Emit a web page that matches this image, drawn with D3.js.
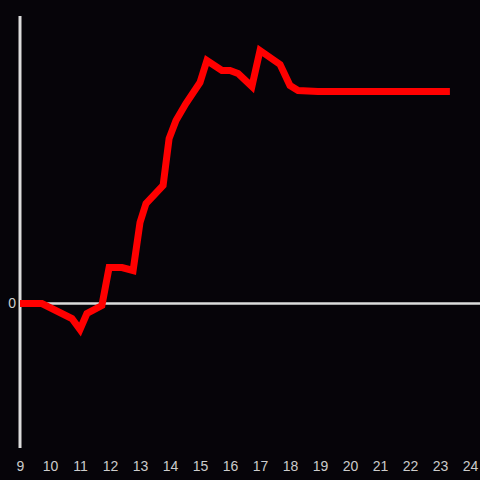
<!DOCTYPE html>
<html>
<head>
<meta charset="utf-8">
<script src="https://cdn.jsdelivr.net/npm/d3@7"></script>
<style>
  html, body { margin: 0; padding: 0; background: #060409; }
  svg { display: block; }
</style>
</head>
<body>
<div id="chart"></div>
<script>
// hours of the day and the value read at each point
const hours = [9, 9.73, 10.73, 11.0, 11.23, 11.73, 11.97, 12.4, 12.77, 13.0, 13.2, 13.77, 13.97, 14.2, 14.53,
  15.0, 15.23, 15.73, 16.0, 16.27, 16.73, 17.0, 17.67, 18.0, 18.27, 18.93, 23.33];
const values = [0, 0, -1.5, -2.6, -1.0, -0.2, 3.6, 3.6, 3.3, 8.1, 10.0, 11.8, 16.5, 18.3, 20.0,
  22.1, 24.3, 23.3, 23.3, 23.0, 21.7, 25.3, 23.9, 21.8, 21.3, 21.2, 21.2];
const xTicks = d3.range(9, 25);
const yTicks = [0];

const width = 480, height = 480;
const svg = d3.select("#chart").append("svg")
    .attr("width", width)
    .attr("height", height)
    .style("background", "#060409");

const x = d3.scaleLinear().domain([9, 24]).range([20, 470]);
const y = d3.scaleLinear().domain([-14.5, 28.7]).range([448.5, 16.5]);

// vertical axis line
svg.append("line")
    .attr("x1", x(9)).attr("x2", x(9))
    .attr("y1", 16).attr("y2", 448)
    .attr("stroke", "#dcdcdc")
    .attr("stroke-width", 3);

// zero line
svg.append("line")
    .attr("x1", x(9)).attr("x2", width)
    .attr("y1", y(0)).attr("y2", y(0))
    .attr("stroke", "#dcdcdc")
    .attr("stroke-width", 2.5);

// x tick labels
svg.append("g")
    .attr("transform", `translate(0,448)`)
    .call(d3.axisBottom(x).tickValues(xTicks).tickSize(0).tickPadding(13).tickFormat(d3.format("d")))
    .call(g => g.select(".domain").remove())
    .call(g => g.selectAll("text")
        .attr("fill", "#cccccc")
        .style("font", "14px 'Liberation Sans', Arial, sans-serif"));

// y tick labels
svg.append("g")
    .attr("transform", `translate(${x(9)},0)`)
    .call(d3.axisLeft(y).tickValues(yTicks).tickSize(0).tickPadding(4).tickFormat(d3.format("d")))
    .call(g => g.select(".domain").remove())
    .call(g => g.selectAll("text")
        .attr("fill", "#cccccc")
        .style("font", "14px 'Liberation Sans', Arial, sans-serif"));

const points = hours.map((h, i) => [h, values[i]]);
const line = d3.line()
    .x(d => x(d[0]))
    .y(d => y(d[1]));

svg.append("path")
    .datum(points)
    .attr("d", line)
    .attr("fill", "none")
    .attr("stroke", "#ff0000")
    .attr("stroke-width", 7)
    .attr("stroke-linejoin", "miter")
    .attr("stroke-linecap", "butt");
</script>
</body>
</html>
